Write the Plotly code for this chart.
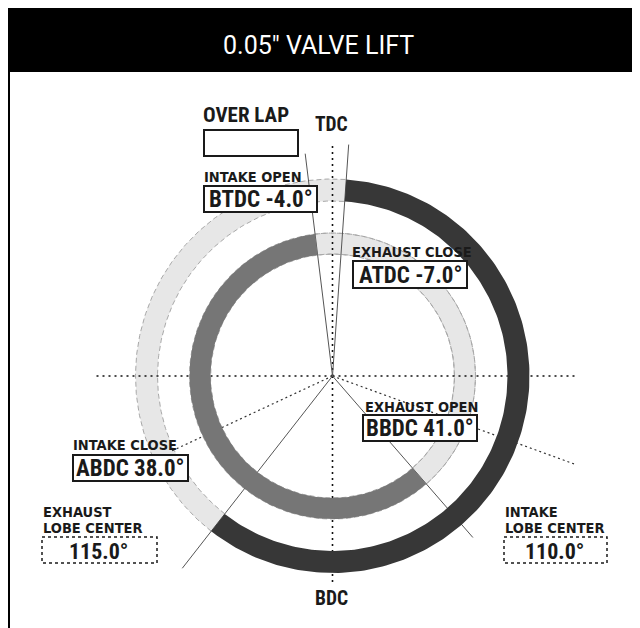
import numpy as np
import plotly.graph_objects as go

# ---------------- data ----------------
event_names = ["INTAKE OPEN", "EXHAUST CLOSE", "EXHAUST OPEN", "INTAKE CLOSE"]
event_refs = ["BTDC", "ATDC", "BBDC", "ABDC"]
event_values = [-4.0, -7.0, 41.0, 38.0]
lobe_names = ["EXHAUST", "INTAKE"]
lobe_values = [115.0, 110.0]
dead_centers = ["TDC", "BDC"]
title_text = "0.05″ VALVE LIFT"
overlap_label = "OVER LAP"

# crank angles, degrees clockwise from TDC
ivo = -event_values[0]          # BTDC
evc = event_values[1]           # ATDC
evo = 180 - event_values[2]     # BBDC
ivc = 180 + event_values[3]     # ABDC
ecl = 360 - lobe_values[0]      # exhaust lobe centre (BTDC)
icl = lobe_values[1]            # intake lobe centre (ATDC)

# ---------------- geometry / style ----------------
CX, CY = 332.5, 376.0
R_OUT = (175, 197)
R_IN = (122, 143)
DARK = "#373737"
MED = "#767676"
LIGHT = "#e7e7e7"
EDGE = "#a8a8a8"
LBL = "DejaVu Sans Condensed, DejaVu Sans, sans-serif"
NAR = "Roboto Condensed, DejaVu Sans Condensed, sans-serif"


def pt(a, r):
    t = np.radians(a)
    return CX + r * np.sin(t), CY - r * np.cos(t)


def arc(a1, a2, r, n=200):
    a = np.linspace(a1, a2, n)
    return pt(a, r)


def sector(a1, a2, r1, r2):
    xo, yo = arc(a1, a2, r2)
    xi, yi = arc(a2, a1, r1)
    return np.concatenate([xo, xi, xo[:1]]), np.concatenate([yo, yi, yo[:1]])


fig = go.Figure()


def add_sector(a1, a2, rr, color):
    x, y = sector(a1, a2, rr[0], rr[1])
    fig.add_trace(go.Scatter(x=x, y=y, mode="lines", fill="toself", fillcolor=color,
                             line=dict(width=0, color=color), hoverinfo="skip", showlegend=False))


def add_line(x, y, color, width, dash="solid"):
    fig.add_trace(go.Scatter(x=x, y=y, mode="lines", line=dict(color=color, width=width, dash=dash),
                             hoverinfo="skip", showlegend=False))


# light (closed) portions with dashed edges
add_sector(ivc, ivo + 360, R_OUT, LIGHT)
add_sector(evc, evo + 360, R_IN, LIGHT)
for r in R_OUT:
    x, y = arc(ivc, ivo + 360, r)
    add_line(x, y, EDGE, 1, "5px,3px")
for r in R_IN:
    x, y = arc(evc, evo + 360, r)
    add_line(x, y, EDGE, 1, "5px,3px")

# TDC/BDC and horizontal dotted axes
for a, r in [(0, 234), (180, 206), (270, 237.5), (90, 245.5)]:
    x, y = pt(a, r)
    add_line([CX, x], [CY, y], "#111111", 1.6, "2px,4px")

# lobe centre dotted lines
for a, r in [(icl, 257), (ecl, 180)]:
    x, y = pt(a, r)
    add_line([CX, x], [CY, y], "#333333", 1.2, "2px,3px")

# event lines
for a, r in [(ivo, 232), (evc, 224), (ivc, 244), (evo, 214)]:
    x, y = pt(a, r)
    add_line([CX, x], [CY, y], "#555555", 1, "solid")

# open periods
add_sector(ivo, ivc, R_OUT, DARK)
add_sector(evo, evc + 360, R_IN, MED)

# ---------------- frame, boxes, text ----------------
shapes = []
shapes.append(dict(type="rect", x0=9, x1=635, y0=8, y1=660, line=dict(color="black", width=2),
                   fillcolor="rgba(0,0,0,0)", layer="below"))
shapes.append(dict(type="rect", x0=8, x1=660, y0=8, y1=72, line=dict(width=0), fillcolor="black",
                   layer="above"))

annotations = []


def text(x, y, s, size, family, color="#1a1a1a", xanchor="left"):
    annotations.append(dict(x=x, y=y, text=s, showarrow=False, xanchor=xanchor, yanchor="middle",
                            font=dict(family=family, size=size, color=color, weight="bold")))


def box(x0, y0, x1, y1, dash="solid", width=2):
    shapes.append(dict(type="rect", x0=x0, x1=x1, y0=y0, y1=y1, fillcolor="white",
                       line=dict(color="#1a1a1a", width=width, dash=dash), layer="above"))


annotations.append(dict(x=318, y=45, text=title_text, showarrow=False, xanchor="center", yanchor="middle",
                        font=dict(family="Roboto, sans-serif", size=25, color="white")))

# overlap
text(201, 115, overlap_label, 21, NAR)
box(204, 130, 298, 156)

# dead centres
text(331, 124, dead_centers[0], 19.5, NAR, xanchor="center")
text(331, 598, dead_centers[1], 19.5, NAR, xanchor="center")

# event labels + value boxes  (label pos, box)
ev_layout = [
    ((202, 176.5), (204, 186, 317, 212)),
    ((350, 251.5), (353, 261, 467, 288)),
    ((363, 406.5), (363, 415, 477, 441)),
    ((71, 444.5), (73, 455, 188, 481)),
]
for name, ref, val, (lp, bx) in zip(event_names, event_refs, event_values, ev_layout):
    text(lp[0], lp[1], name, 14.5, LBL)
    box(*bx)
    text((bx[0] + bx[2]) / 2, (bx[1] + bx[3]) / 2 + 0.5, f"{ref} {val:.1f}°", 23, NAR, xanchor="center")

# lobe centres
lobe_layout = [(41, (42, 537, 157, 563)), (503, (504, 537, 607, 563))]
for name, val, (lx, bx) in zip(lobe_names, lobe_values, lobe_layout):
    text(lx, 511.5, name, 14.5, LBL)
    text(lx, 528, "LOBE CENTER", 14.5, LBL)
    box(*bx, dash="dot", width=1.5)
    text((bx[0] + bx[2]) / 2 - 1, (bx[1] + bx[3]) / 2 + 1, f"{val:.1f}°", 22, NAR, xanchor="center")

fig.update_layout(
    width=640, height=628, margin=dict(l=0, r=0, t=0, b=0),
    paper_bgcolor="white", plot_bgcolor="white",
    xaxis=dict(range=[8, 648], visible=False, fixedrange=True),
    yaxis=dict(range=[636, 8], visible=False, fixedrange=True),
    shapes=shapes, annotations=annotations, showlegend=False,
)

fig.write_html("out.html")
